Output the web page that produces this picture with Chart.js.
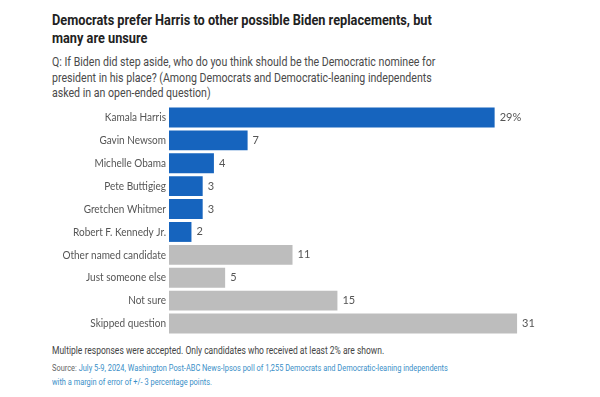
<!DOCTYPE html>
<html>
<head>
<meta charset="utf-8">
<script src="https://cdn.jsdelivr.net/npm/chart.js@4.4.1/dist/chart.umd.min.js"></script>
<style>
  html, body { margin: 0; padding: 0; background: #fff; }
  body { width: 600px; height: 397px; position: relative; overflow: hidden; font-family: Roboto, sans-serif; }
  .t { position: absolute; left: 52px; transform-origin: 0 0; }
  .title { top: 12px; width: 470px; font-weight: bold; font-size: 15px; line-height: 17.5px; color: #222; transform: scaleX(0.85); }
  .sub { top: 54px; width: 482px; font-size: 13px; line-height: 15.5px; color: #4a4a4a; transform: scaleX(0.815); }
  .note { top: 345px; width: 480px; font-size: 10px; color: #444; transform: scaleX(0.85); }
  .src { top: 362px; width: 490px; font-size: 9px; line-height: 13.5px; color: #3a8fc8; transform: scaleX(0.825); }
  .src span { color: #666; }
  #wrap { position: absolute; left: 0; top: 105.5px; width: 600px; height: 229px; }
</style>
</head>
<body>
<div class="t title">Democrats prefer Harris to other possible Biden replacements, but many are unsure</div>
<div class="t sub">Q: If Biden did step aside, who do you think should be the Democratic nominee for president in his place? (Among Democrats and Democratic-leaning independents asked in an open-ended question)</div>
<div class="t note">Multiple responses were accepted. Only candidates who received at least 2% are shown.</div>
<div class="t src"><span>Source: </span>July 5-9, 2024, Washington Post-ABC News-Ipsos poll of 1,255 Democrats and Democratic-leaning independents with a margin of error of +/- 3 percentage points.</div>
<div id="wrap"><canvas id="c"></canvas></div>
<script>
const categories = ["Kamala Harris","Gavin Newsom","Michelle Obama","Pete Buttigieg","Gretchen Whitmer","Robert F. Kennedy Jr.","Other named candidate","Just someone else","Not sure","Skipped question"];
const values = [29, 7, 4, 3, 3, 2, 11, 5, 15, 31];
const groups = ["named","named","named","named","named","named","other","other","other","other"];
const valueLabels = ["29%","7","4","3","3","2","11","5","15","31"];
const groupColors = { named: "#1664be", other: "#bdbdbd" };

const labelPlugin = {
  id: "vlabels",
  afterDatasetsDraw(chart) {
    const ctx = chart.ctx;
    const meta = chart.getDatasetMeta(0);
    const yScale = chart.scales.y;
    ctx.save();
    ctx.fillStyle = "#555";
    ctx.textBaseline = "middle";
    // value labels
    ctx.font = "11px Lato, Roboto, sans-serif";
    ctx.textAlign = "left";
    meta.data.forEach((bar, i) => {
      ctx.fillText(valueLabels[i], bar.x + 5, bar.y);
    });
    // category labels, slightly condensed
    ctx.font = "11.5px Lato, Roboto, sans-serif";
    ctx.textAlign = "right";
    const sx = 0.87;
    const xRight = chart.chartArea.left - 3;
    categories.forEach((c, i) => {
      const y = yScale.getPixelForTick(i);
      ctx.save();
      ctx.translate(xRight, y);
      ctx.scale(sx, 1);
      ctx.fillText(c, 0, 0);
      ctx.restore();
    });
    ctx.restore();
  }
};

new Chart(document.getElementById("c"), {
  type: "bar",
  data: {
    labels: categories,
    datasets: [{
      data: values,
      backgroundColor: groups.map(g => groupColors[g]),
      borderWidth: 0,
      barPercentage: 0.87,
      categoryPercentage: 1.0
    }]
  },
  options: {
    indexAxis: "y",
    responsive: true,
    maintainAspectRatio: false,
    animation: false,
    layout: { padding: { left: 0, right: 38, top: 0, bottom: 0 } },
    plugins: { legend: { display: false }, tooltip: { enabled: false } },
    scales: {
      x: { display: false, min: 0, max: 35 },
      y: {
        grid: { display: false },
        border: { display: false },
        ticks: { display: false, font: { size: 11, family: "Lato, Roboto, sans-serif" } },
        afterFit(scale) { scale.width = 169; }
      }
    }
  },
  plugins: [labelPlugin]
});
</script>
</body>
</html>
